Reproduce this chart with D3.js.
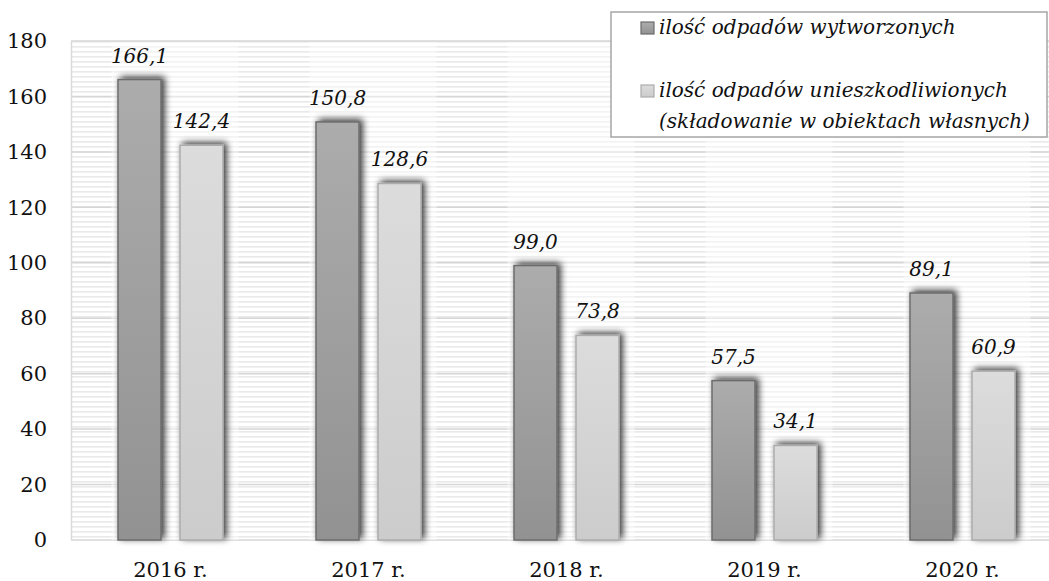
<!DOCTYPE html>
<html><head><meta charset="utf-8">
<script src="https://cdn.jsdelivr.net/npm/d3@7"></script>
<style>
html,body{margin:0;padding:0;background:#fff;}
svg{display:block;}
</style></head>
<body>
<svg id="chart" width="1049" height="581"></svg>
<script>
const categories = ["2016 r.", "2017 r.", "2018 r.", "2019 r.", "2020 r."];
const seriesNames = ["ilość odpadów wytworzonych", "ilość odpadów unieszkodliwionych"];
const generated = [166.1, 150.8, 99.0, 57.5, 89.1];
const disposed = [142.4, 128.6, 73.8, 34.1, 60.9];
const yTicks = [0, 20, 40, 60, 80, 100, 120, 140, 160, 180];
const legendLines = [["ilość odpadów wytworzonych"], ["ilość odpadów unieszkodliwionych", "(składowanie w obiektach własnych)"]];

const svg = d3.select("#chart");
const defs = svg.append("defs");

const x = d3.scaleBand().domain(categories).range([71.5, 1061.5]).padding(0);
const xs = d3.scaleBand().domain([0, 1]).range([-52.5, 52.5]).paddingInner(0.3065).paddingOuter(0);
const y = d3.scaleLinear().domain([0, 180]).range([540, 41]);

// stripe pattern
const pat = defs.append("pattern").attr("id", "stripes").attr("patternUnits", "userSpaceOnUse")
  .attr("width", 10).attr("height", 5).attr("y", 41);
pat.append("rect").attr("width", 10).attr("height", 5).attr("fill", "#fff");
pat.append("rect").attr("y", 0).attr("width", 10).attr("height", 1.6).attr("fill", "#e9e9e9");

// gradients
const g1 = defs.append("linearGradient").attr("id", "gDark").attr("x1", 0).attr("y1", 0).attr("x2", 0).attr("y2", 1);
g1.append("stop").attr("offset", "0%").attr("stop-color", "#acacac");
g1.append("stop").attr("offset", "100%").attr("stop-color", "#929292");
const g2 = defs.append("linearGradient").attr("id", "gLight").attr("x1", 0).attr("y1", 0).attr("x2", 0).attr("y2", 1);
g2.append("stop").attr("offset", "0%").attr("stop-color", "#dcdcdc");
g2.append("stop").attr("offset", "100%").attr("stop-color", "#cccccc");

// shadow filter
const f = defs.append("filter").attr("id", "shadow").attr("x", "-50%").attr("y", "-20%").attr("width", "200%").attr("height", "140%");
f.append("feGaussianBlur").attr("in", "SourceAlpha").attr("stdDeviation", 3.6).attr("result", "b");
f.append("feOffset").attr("in", "b").attr("dx", 3).attr("dy", -2).attr("result", "o");
f.append("feComponentTransfer").attr("in", "o").attr("result", "o2")
  .append("feFuncA").attr("type", "linear").attr("slope", 0.8);
const m = f.append("feMerge");
m.append("feMergeNode").attr("in", "o2");
m.append("feMergeNode").attr("in", "SourceGraphic");

// plot background stripes
svg.append("rect").attr("x", 71.5).attr("y", y(180)).attr("width", 1049 - 71.5).attr("height", y(0) - y(180))
  .attr("fill", "url(#stripes)");

// gridlines
svg.append("g").selectAll("line").data(yTicks).join("line")
  .attr("x1", 71).attr("x2", 1049)
  .attr("y1", d => y(d)).attr("y2", d => y(d))
  .attr("stroke", "#d6d6d6").attr("stroke-width", 1.5);
svg.append("line").attr("x1", 71.5).attr("x2", 71.5).attr("y1", y(180)).attr("y2", y(0))
  .attr("stroke", "#d9d9d9").attr("stroke-width", 1.5);

// faded zone around groups
svg.append("g").selectAll("rect").data(categories).join("rect")
  .attr("x", d => x(d) + x.bandwidth() / 2 - 59)
  .attr("width", 127)
  .attr("y", y(180) + 1).attr("height", y(0) - y(180) - 1)
  .attr("fill", "#fff").attr("opacity", 0.45);

// y axis labels
const yAxis = d3.axisLeft(y).tickValues(yTicks).tickSize(0).tickPadding(0).tickFormat(d3.format("d"));
const ya = svg.append("g").attr("transform", "translate(47,0)").call(yAxis);
ya.select(".domain").remove();
ya.selectAll("text").attr("font-family", "DejaVu Serif").attr("font-size", 21).attr("fill", "#111");

// x axis labels
const xAxis = d3.axisBottom(x).tickSize(0).tickPadding(0);
const xa = svg.append("g").attr("transform", "translate(0,562)").call(xAxis);
xa.select(".domain").remove();
xa.selectAll("text").attr("font-family", "DejaVu Serif").attr("font-size", 21).attr("fill", "#111").attr("dy", "0.71em");

// bars
const data = categories.map((c, i) => ({ c, vals: [generated[i], disposed[i]] }));
const fills = ["url(#gDark)", "url(#gLight)"];
const strokes = ["#6c6c6c", "#acacac"];
const groups = svg.append("g").selectAll("g").data(data).join("g")
  .attr("transform", d => `translate(${x(d.c) + x.bandwidth() / 2},0)`);
groups.selectAll("rect").data(d => d.vals.map((v, k) => ({ v, k }))).join("rect")
  .attr("x", d => xs(d.k)).attr("width", xs.bandwidth())
  .attr("y", d => y(d.v)).attr("height", d => y(0) - y(d.v))
  .attr("fill", d => fills[d.k]).attr("stroke", d => strokes[d.k]).attr("stroke-width", 1.5)
  .attr("filter", "url(#shadow)");
groups.selectAll("text").data(d => d.vals.map((v, k) => ({ v, k }))).join("text")
  .attr("x", d => xs(d.k) + xs.bandwidth() / 2)
  .attr("y", d => y(d.v) - 17)
  .attr("text-anchor", "middle")
  .attr("font-family", "DejaVu Serif").attr("font-style", "italic").attr("font-size", 20).attr("fill", "#111")
  .text(d => d3.format(".1f")(d.v).replace(".", ","));

// legend
const lg = svg.append("g");
lg.append("rect").attr("x", 611).attr("y", 12).attr("width", 436).attr("height", 125)
  .attr("fill", "#fff").attr("stroke", "#a6a6a6").attr("stroke-width", 1.5);
const legY = [34, 97];
legendLines.forEach((lines, i) => {
  lg.append("rect").attr("x", 641).attr("y", legY[i] - 12).attr("width", 13).attr("height", 12)
    .attr("fill", fills[i]).attr("stroke", strokes[i]).attr("stroke-width", 1.2);
  lines.forEach((t, j) => {
    lg.append("text").attr("x", 659).attr("y", legY[i] + j * 31)
      .attr("font-family", "DejaVu Serif").attr("font-style", "italic").attr("font-size", 20).attr("fill", "#111")
      .text(t);
  });
});
</script>
</body></html>
